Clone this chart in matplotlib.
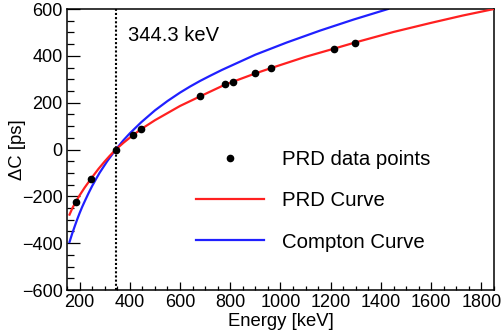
import matplotlib
matplotlib.use("Agg")
import matplotlib.pyplot as plt
from matplotlib.ticker import MultipleLocator

plt.rcParams['font.family'] = ['Liberation Sans', 'DejaVu Sans']

# PRD data points
data_energy = [184, 246, 344.3, 411, 445, 680, 779, 810, 900, 963, 1214, 1297]
data_dc = [-224, -124, 0, 60, 87, 227, 278, 288, 326, 348, 431, 457]

# PRD curve
prd_energy = [160, 172, 184, 200, 220, 246, 275, 300, 320, 344.3, 375, 411, 445, 500,
              600, 680, 779, 900, 963, 1100, 1214, 1297, 1450, 1600, 1725, 1850]
prd_dc = [-278, -249, -225, -196, -163, -124, -83, -51, -27, 0, 29, 60, 87, 125,
          186, 227, 277, 325, 348, 396, 431, 457, 502, 541, 572, 600]

# Compton curve
compton_energy = [160, 170, 180, 190, 200, 210, 221, 235, 250, 265, 280, 310, 344.3,
                  375, 400, 445, 500, 550, 600, 640, 680, 720, 767, 900, 1025, 1158,
                  1291, 1428]
compton_dc = [-395, -361, -330, -300, -272, -246, -220, -188, -156, -127, -99, -50, 0,
              40, 69, 116, 167, 207, 243, 269, 293, 315, 340, 405, 457, 508,
              555, 600]

marker_energy = 344.3
marker_label = "344.3 keV"

fig = plt.figure(figsize=(5.02, 3.34), dpi=100)
ax = fig.add_axes([0.1335, 0.1317, 0.8505, 0.8413])

ax.axvline(marker_energy, color='black', linestyle=(0, (1.0, 1.0)), linewidth=1.5, zorder=1)
ax.plot(data_energy, data_dc, 'o', color='black', markersize=4.5, label='PRD data points', zorder=4)
ax.plot(prd_energy, prd_dc, '-', color='#ff2020', linewidth=1.6, label='PRD Curve', zorder=3)
ax.plot(compton_energy, compton_dc, '-', color='#2020ff', linewidth=1.6, label='Compton Curve', zorder=2)

ax.text(0.143, 0.907, marker_label, transform=ax.transAxes, fontsize=14.5,
        ha='left', va='center')

ax.set_xlim(150, 1850)
ax.set_ylim(-600, 600)
ax.xaxis.set_major_locator(MultipleLocator(200))
ax.xaxis.set_minor_locator(MultipleLocator(50))
ax.yaxis.set_major_locator(MultipleLocator(200))
ax.yaxis.set_minor_locator(MultipleLocator(50))

ax.tick_params(axis='x', which='major', direction='in', length=6, width=0.9, labelsize=13, pad=3)
ax.tick_params(axis='x', which='minor', direction='in', length=3, width=0.9)
ax.tick_params(axis='y', which='major', direction='in', length=9.4, width=0.9, labelsize=13, pad=3)
ax.tick_params(axis='y', which='minor', direction='in', length=4.7, width=0.9)
for s in ax.spines.values():
    s.set_linewidth(1.1)

ax.set_xlabel('Energy [keV]', fontsize=13.3, labelpad=1)
ax.set_ylabel('ΔC [ps]', fontsize=13.3)
ax.yaxis.set_label_coords(-0.095, 0.5)

leg = ax.legend(loc='center left', bbox_to_anchor=(0.279, 0.318), frameon=False,
                fontsize=14.7, handlelength=3.3, handletextpad=0.9, labelspacing=1.1,
                numpoints=1, borderpad=0)

fig.savefig('out.png', dpi=100)
